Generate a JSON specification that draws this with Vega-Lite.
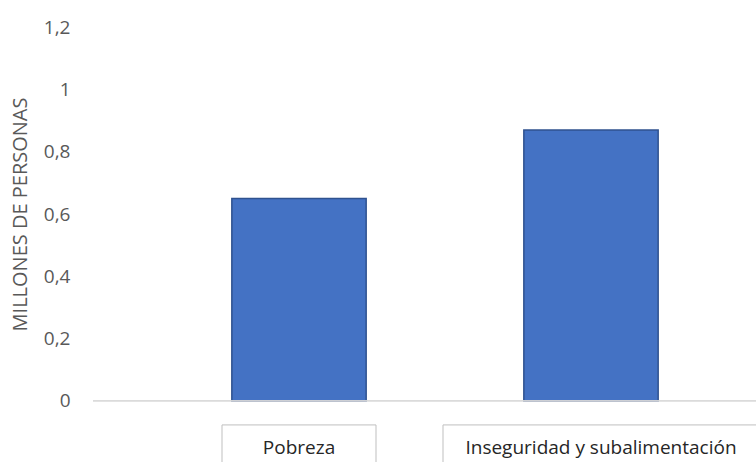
{
  "$schema": "https://vega.github.io/schema/vega-lite/v6.json",
  "width": 663,
  "height": 462,
  "autosize": "none",
  "padding": {"left": 93, "top": 0, "right": 0, "bottom": 0},
  "background": "white",
  "config": {"view": {"stroke": null}, "font": "Open Sans"},
  "data": {
    "values": [
      {"cat": "Pobreza", "val": 0.65},
      {"cat": "Inseguridad y subalimentación", "val": 0.87}
    ]
  },
  "encoding": {
    "x": {
      "field": "cat",
      "type": "nominal",
      "sort": null,
      "axis": null,
      "scale": {"range": [60, 644], "paddingInner": 0, "paddingOuter": 0}
    }
  },
  "layer": [
    {
      "mark": {"type": "bar", "width": {"band": 0.46}, "fill": "#4472C4", "stroke": "#2F528F", "strokeWidth": 1.5},
      "encoding": {
        "y": {
          "field": "val",
          "type": "quantitative",
          "scale": {"domain": [-0.196, 1.287], "nice": false, "zero": false},
          "axis": {
            "values": [0, 0.2, 0.4, 0.6, 0.8, 1, 1.2],
            "domain": false,
            "ticks": false,
            "grid": false,
            "labelPadding": 23,
            "labelFontSize": 19,
            "labelColor": "#595959",
            "labelFont": "Open Sans",
            "labelExpr": "replace(format(datum.value, '~g'), '.', ',')",
            "title": "MILLONES DE PERSONAS",
            "titleFont": "Open Sans",
            "titleFontSize": 20,
            "titleFontWeight": "normal",
            "titleColor": "#595959",
            "titleX": -73,
            "titleY": 214,
            "titleAngle": -90,
            "titleAlign": "center",
            "titleBaseline": "middle"
          }
        }
      }
    },
    {
      "mark": {"type": "rule", "color": "#D9D9D9", "strokeWidth": 1.2},
      "encoding": {"y": {"datum": 0}, "x": null}
    },
    {
      "transform": [{"filter": "datum.cat === 'Pobreza'"}],
      "layer": [
        {
          "mark": {"type": "bar", "width": 154, "fill": "white", "stroke": "#BFBFBF", "strokeWidth": 1},
          "encoding": {"y": {"datum": -0.077}, "y2": {"datum": -0.4}}
        },
        {
          "mark": {"type": "text", "font": "Open Sans", "fontSize": 19, "color": "#262626", "baseline": "middle", "align": "center"},
          "encoding": {"y": {"datum": -0.152}, "text": {"field": "cat"}}
        }
      ]
    },
    {
      "transform": [{"filter": "datum.cat !== 'Pobreza'"}],
      "layer": [
        {
          "mark": {"type": "bar", "width": 316, "xOffset": 10, "fill": "white", "stroke": "#BFBFBF", "strokeWidth": 1},
          "encoding": {"y": {"datum": -0.077}, "y2": {"datum": -0.4}}
        },
        {
          "mark": {"type": "text", "font": "Open Sans", "fontSize": 19, "dx": 10, "color": "#262626", "baseline": "middle", "align": "center"},
          "encoding": {"y": {"datum": -0.152}, "text": {"field": "cat"}}
        }
      ]
    }
  ]
}
